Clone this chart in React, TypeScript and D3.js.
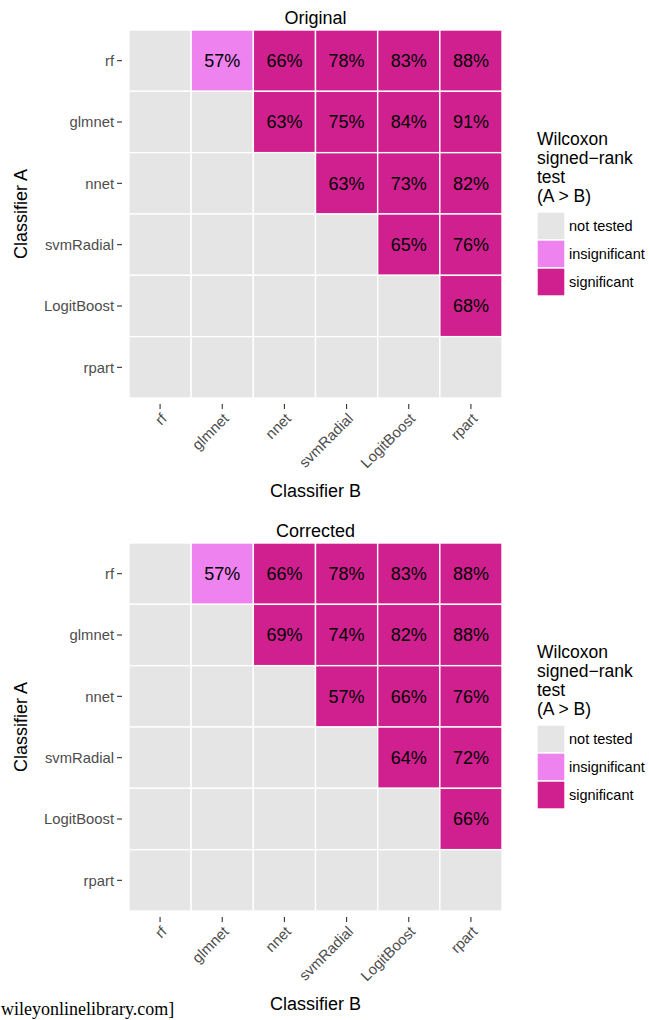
import React from "react";
import * as d3 from "d3";

// Classifiers compared pairwise (rows: Classifier A, columns: Classifier B)
const classifiers = ["rf", "glmnet", "nnet", "svmRadial", "LogitBoost", "rpart"];

// Percentages for A > B; null means the pair was not tested
const originalPct: (number | null)[][] = [
  [null, 57, 66, 78, 83, 88],
  [null, null, 63, 75, 84, 91],
  [null, null, null, 63, 73, 82],
  [null, null, null, null, 65, 76],
  [null, null, null, null, null, 68],
  [null, null, null, null, null, null],
];

const correctedPct: (number | null)[][] = [
  [null, 57, 66, 78, 83, 88],
  [null, null, 69, 74, 82, 88],
  [null, null, null, 57, 66, 76],
  [null, null, null, null, 64, 72],
  [null, null, null, null, null, 66],
  [null, null, null, null, null, null],
];

// Pairs whose test result is not significant
const originalInsignificant = [["rf", "glmnet"]];
const correctedInsignificant = [["rf", "glmnet"]];

const statusLevels = ["not tested", "insignificant", "significant"];
const statusColors = ["#E5E5E5", "#EE82EE", "#D02090"];
const legendTitle = ["Wilcoxon", "signed\u2212rank", "test", "(A > B)"];

const W = 649;
const H = 1020;
const FONT = "'Liberation Sans', Arial, Helvetica, sans-serif";

const color = d3.scaleOrdinal<string, string>().domain(statusLevels).range(statusColors);

type PanelProps = {
  title: string;
  pct: (number | null)[][];
  insignificant: string[][];
  top: number;
};

function Panel({ title, pct, insignificant, top }: PanelProps) {
  const left = 129;
  const right = 502;
  const bottom = top + 368;
  const x = d3.scaleBand().domain(classifiers).range([left, right]);
  const y = d3.scaleBand().domain(classifiers).range([top, bottom]);
  const cx = (left + right) / 2;
  const cy = (top + bottom) / 2;

  const cells = classifiers.flatMap((a, i) =>
    classifiers.map((b, j) => {
      const v = pct[i][j];
      const status =
        v == null
          ? "not tested"
          : insignificant.some(([ia, ib]) => ia === a && ib === b)
          ? "insignificant"
          : "significant";
      return { a, b, v, status };
    })
  );

  const legendTop = top + 103;
  const keyX = 537;
  const keySize = 28;
  const keyTop = top + 182;

  return (
    <g>
      <text x={cx} y={top - 6} textAnchor="middle" fontSize={18} fill="#000">
        {title}
      </text>
      {cells.map((c) => (
        <rect
          key={c.a + "-" + c.b}
          x={x(c.b)}
          y={y(c.a)}
          width={x.bandwidth()}
          height={y.bandwidth()}
          fill={color(c.status)}
          stroke="#fff"
          strokeWidth={1.4}
        />
      ))}
      {cells
        .filter((c) => c.v != null)
        .map((c) => (
          <text
            key={"t" + c.a + "-" + c.b}
            x={(x(c.b) as number) + x.bandwidth() / 2}
            y={(y(c.a) as number) + y.bandwidth() / 2}
            dy="0.36em"
            textAnchor="middle"
            fontSize={18}
            fill="#000"
          >
            {c.v}%
          </text>
        ))}
      {/* y axis */}
      {classifiers.map((c) => {
        const yy = (y(c) as number) + y.bandwidth() / 2;
        return (
          <g key={"y" + c}>
            <line x1={117} x2={122} y1={yy} y2={yy} stroke="#333" strokeWidth={1.1} />
            <text x={114} y={yy} dy="0.35em" textAnchor="end" fontSize={14.8} fill="#4D4D4D">
              {c}
            </text>
          </g>
        );
      })}
      {/* x axis */}
      {classifiers.map((c) => {
        const xx = (x(c) as number) + x.bandwidth() / 2;
        return (
          <g key={"x" + c}>
            <line x1={xx} x2={xx} y1={bottom + 6} y2={bottom + 11} stroke="#333" strokeWidth={1.1} />
            <text
              transform={`translate(${xx},${bottom + 14}) rotate(-45)`}
              dy="0.72em"
              textAnchor="end"
              fontSize={14.8}
              fill="#4D4D4D"
            >
              {c}
            </text>
          </g>
        );
      })}
      <text x={cx} y={bottom + 99} textAnchor="middle" fontSize={18} fill="#000">
        Classifier B
      </text>
      <text transform={`translate(27,${cy}) rotate(-90)`} textAnchor="middle" fontSize={18} fill="#000">
        Classifier A
      </text>
      {/* legend */}
      {legendTitle.map((t, i) => (
        <text key={"lt" + i} x={keyX} y={legendTop + 12 + i * 19} fontSize={17.5} fill="#000">
          {t}
        </text>
      ))}
      {statusLevels.map((s, i) => (
        <g key={"lk" + s}>
          <rect
            x={keyX}
            y={keyTop + i * keySize}
            width={keySize}
            height={keySize}
            fill={color(s)}
            stroke="#fff"
            strokeWidth={1.4}
          />
          <text
            x={keyX + keySize + 4}
            y={keyTop + i * keySize + keySize / 2}
            dy="0.35em"
            fontSize={14.5}
            fill="#000"
          >
            {s}
          </text>
        </g>
      ))}
    </g>
  );
}

export default function App() {
  return (
    <svg
      width={W}
      height={H}
      style={{ position: "absolute", left: 0, top: 0, background: "#fff" }}
      fontFamily={FONT}
    >
      <rect width={W} height={H} fill="#fff" />
      <Panel title="Original" pct={originalPct} insignificant={originalInsignificant} top={30} />
      <Panel title="Corrected" pct={correctedPct} insignificant={correctedInsignificant} top={543} />
      <text
        x={1}
        y={1015}
        fontSize={18}
        fontFamily="'Liberation Serif', 'DejaVu Serif', serif"
        fill="#000"
      >
        wileyonlinelibrary.com]
      </text>
    </svg>
  );
}
